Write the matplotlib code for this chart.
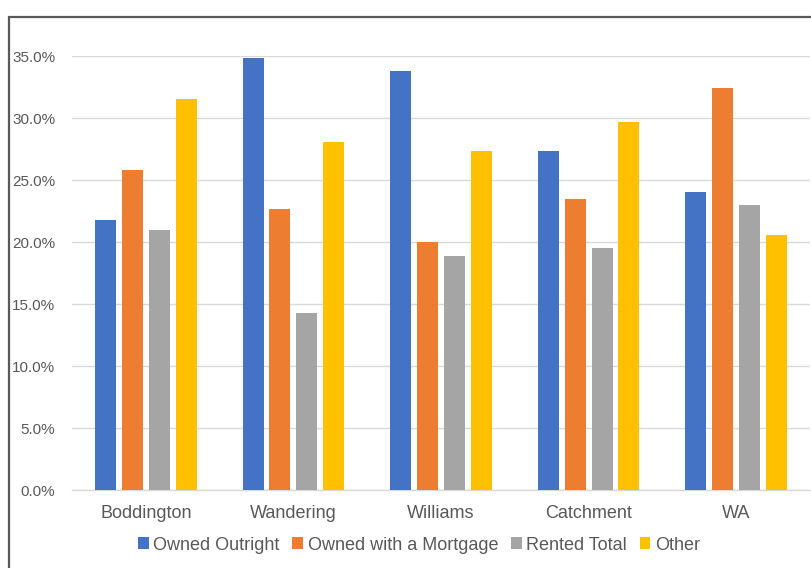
import matplotlib
matplotlib.use("Agg")
import matplotlib.pyplot as plt
from matplotlib.patches import Rectangle
from matplotlib.ticker import PercentFormatter, MultipleLocator
import numpy as np

plt.rcParams['font.family'] = ['Liberation Sans', 'DejaVu Sans']

categories = ["Boddington", "Wandering", "Williams", "Catchment", "WA"]
series_names = ["Owned Outright", "Owned with a Mortgage", "Rented Total", "Other"]
owned_outright = [21.8, 34.8, 33.8, 27.3, 24.0]
owned_mortgage = [25.8, 22.7, 20.0, 23.5, 32.4]
rented_total = [21.0, 14.3, 18.9, 19.5, 23.0]
other = [31.5, 28.1, 27.3, 29.7, 20.6]
colors = ["#4472C4", "#ED7D31", "#A5A5A5", "#FFC000"]

W, H = 811, 568
fig = plt.figure(figsize=(W / 100, H / 100), dpi=100)

# chart-area frame (runs off the right and bottom edges)
fig.patches.append(Rectangle((8.5 / W, -0.1), 1.2, 1.1 - 16.5 / H,
                             transform=fig.transFigure, fill=False,
                             edgecolor="#595959", linewidth=1.6))

ax = fig.add_axes([72 / W, (H - 490) / H, (810 - 72) / W, (490 - 56) / H])

x = np.arange(len(categories))
pitch = 0.182
width = 0.142
all_series = [owned_outright, owned_mortgage, rented_total, other]
for j, (vals, name, c) in enumerate(zip(all_series, series_names, colors)):
    ax.bar(x + (j - 1.5) * pitch, vals, width=width, color=c, label=name,
           zorder=3, linewidth=0)

ax.set_xlim(-0.5, len(categories) - 0.5)
ax.set_ylim(0, 35)
ax.yaxis.set_major_locator(MultipleLocator(5))
ax.yaxis.set_major_formatter(PercentFormatter(decimals=1))
ax.grid(axis="y", color="#D9D9D9", linewidth=1.0, zorder=0)
ax.set_axisbelow(True)
for s in ["top", "right", "left"]:
    ax.spines[s].set_visible(False)
ax.spines["bottom"].set_color("#D9D9D9")
ax.spines["bottom"].set_linewidth(1.0)
ax.set_xticks(x)
ax.set_xticklabels(categories)
ax.tick_params(axis="x", length=0, pad=10.5, labelsize=13, labelcolor="#595959")
ax.tick_params(axis="y", length=0, pad=12, labelsize=11, labelcolor="#595959")

leg = fig.legend(loc="center", bbox_to_anchor=(419 / W, (H - 545) / H),
                 ncol=4, frameon=False, fontsize=13,
                 handlelength=0.6, handleheight=0.6, handletextpad=0.25,
                 columnspacing=0.7, borderpad=0, borderaxespad=0)
for t in leg.get_texts():
    t.set_color("#595959")

fig.savefig("out.png", dpi=100)
